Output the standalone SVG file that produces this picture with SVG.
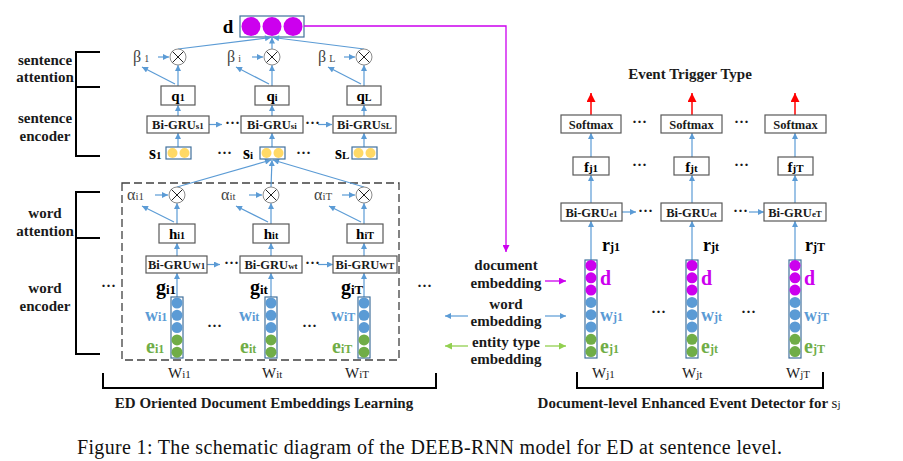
<svg xmlns="http://www.w3.org/2000/svg" width="903" height="461" viewBox="0 0 903 461">
<style>
text{font-family:"Liberation Serif","Times New Roman",serif}
.b{font-weight:bold}
.lab{font-weight:bold;font-size:15px;text-anchor:middle;fill:#1a1a1a}
.box{fill:#fff;stroke:#595959;stroke-width:1.2}
.bt{font-weight:bold;font-size:12.5px;text-anchor:middle;fill:#1a1a1a}
.ln{stroke:#5B9BD5;stroke-width:1.2;fill:none}
.arr{stroke:#5B9BD5;stroke-width:1.2;fill:none;marker-end:url(#ab)}
.mul{fill:#fff;stroke:#8c8c8c;stroke-width:1}
.x{stroke:#222;stroke-width:1}
.vec{fill:#fff;stroke:#41719C;stroke-width:1.2}
.cb{fill:#5B9BD5}
.cg{fill:#70AD47}
.cp{fill:#CC00EE}
.cy{fill:#FFD966}
.brk{stroke:#000;stroke-width:2;fill:none}
.gr{fill:#444;font-size:16px}
.blue{fill:#5B9BD5;font-weight:bold}
.green{fill:#70AD47;font-weight:bold}
.purp{fill:#CC00EE;font-weight:bold}
.dots{font-size:15px;font-weight:bold;fill:#1a1a1a}
</style>
<defs>
<marker id="ab" viewBox="0 0 10 10" refX="10" refY="5" markerWidth="7" markerHeight="6" orient="auto" markerUnits="userSpaceOnUse"><path d="M0,0 L10,5 L0,10 z" fill="#5B9BD5"/></marker>
<marker id="ap" viewBox="0 0 10 10" refX="10" refY="5" markerWidth="8" markerHeight="7" orient="auto" markerUnits="userSpaceOnUse"><path d="M0,0 L10,5 L0,10 z" fill="#CC00EE"/></marker>
<marker id="ag" viewBox="0 0 10 10" refX="10" refY="5" markerWidth="8" markerHeight="7" orient="auto" markerUnits="userSpaceOnUse"><path d="M0,0 L10,5 L0,10 z" fill="#92D050"/></marker>
<marker id="ar" viewBox="0 0 10 10" refX="10" refY="5" markerWidth="10" markerHeight="9" orient="auto" markerUnits="userSpaceOnUse"><path d="M0,0 L10,5 L0,10 z" fill="#FF0000"/></marker>
</defs>

<!-- left side labels and brackets -->
<g id="brackets-left">
<path class="brk" d="M100,52 H76 V156 H100 M76,87 H100"/>
<path class="brk" d="M100,192 H76 V354 H100 M76,238 H100"/>
<text class="lab" x="45" y="65">sentence</text>
<text class="lab" x="45" y="82">attention</text>
<text class="lab" x="45" y="123">sentence</text>
<text class="lab" x="45" y="141">encoder</text>
<text class="lab" x="45" y="218">word</text>
<text class="lab" x="45" y="236">attention</text>
<text class="lab" x="45" y="293">word</text>
<text class="lab" x="45" y="311">encoder</text>
</g>

<g id="word-region">
<rect x="122" y="183" width="277" height="177" fill="none" stroke="#404040" stroke-width="1.3" stroke-dasharray="8 4"/>
</g>

<!-- document vector d -->
<g id="doc-d">
<text class="b" x="228" y="33" font-size="19" text-anchor="middle">d</text>
<rect class="vec" x="240" y="16" width="64" height="21"/>
<circle class="cp" cx="251" cy="26.5" r="9.5"/>
<circle class="cp" cx="272" cy="26.5" r="9.5"/>
<circle class="cp" cx="293" cy="26.5" r="9.5"/>
</g>

<!-- connectors -->
<g id="connectors">
<line class="arr" x1="178" y1="49" x2="271" y2="37.5"/>
<line class="arr" x1="272" y1="49" x2="272" y2="37.5"/>
<line class="arr" x1="364" y1="49" x2="273" y2="37.5"/>
<path d="M304,26 H506 V252" stroke="#CC00EE" stroke-width="1.3" fill="none" marker-end="url(#ap)"/>
<line class="arr" x1="178" y1="86" x2="178" y2="65"/>
<line class="arr" x1="272" y1="86" x2="272" y2="65"/>
<line class="arr" x1="364" y1="86" x2="364" y2="65"/>
<line class="arr" x1="175" y1="84" x2="142" y2="67"/>
<line class="arr" x1="269" y1="84" x2="236" y2="67"/>
<line class="arr" x1="361" y1="84" x2="328" y2="67"/>
<line class="arr" x1="158" y1="57" x2="169" y2="57"/>
<line class="arr" x1="252" y1="57" x2="263" y2="57"/>
<line class="arr" x1="344" y1="57" x2="355" y2="57"/>
<line class="arr" x1="178" y1="116" x2="178" y2="105"/>
<line class="arr" x1="272" y1="116" x2="272" y2="105"/>
<line class="arr" x1="364" y1="116" x2="364" y2="105"/>
<line class="arr" x1="178" y1="147" x2="178" y2="133"/>
<line class="arr" x1="272" y1="147" x2="272" y2="133"/>
<line class="arr" x1="364" y1="147" x2="364" y2="133"/>
<line class="arr" x1="209" y1="124.5" x2="222" y2="124.5"/>
<line class="arr" x1="318" y1="124.5" x2="332" y2="124.5"/>
<line class="arr" x1="177" y1="187" x2="271" y2="160"/>
<line class="arr" x1="271" y1="187" x2="272" y2="160"/>
<line class="arr" x1="364" y1="187" x2="273" y2="160"/>
<line class="arr" x1="177" y1="224" x2="177" y2="203"/>
<line class="arr" x1="271" y1="224" x2="271" y2="203"/>
<line class="arr" x1="364" y1="224" x2="364" y2="203"/>
<line class="arr" x1="174" y1="222" x2="142" y2="206"/>
<line class="arr" x1="268" y1="222" x2="236" y2="206"/>
<line class="arr" x1="361" y1="222" x2="329" y2="206"/>
<line class="arr" x1="155" y1="195" x2="168" y2="195"/>
<line class="arr" x1="249" y1="195" x2="262" y2="195"/>
<line class="arr" x1="342" y1="195" x2="355" y2="195"/>
<line class="arr" x1="177" y1="256" x2="177" y2="243"/>
<line class="arr" x1="271" y1="256" x2="271" y2="243"/>
<line class="arr" x1="364" y1="256" x2="364" y2="243"/>
<line class="arr" x1="177" y1="297" x2="177" y2="273"/>
<line class="arr" x1="271" y1="297" x2="271" y2="273"/>
<line class="arr" x1="364" y1="297" x2="364" y2="273"/>
<line class="arr" x1="207" y1="264.5" x2="220" y2="264.5"/>
<line class="arr" x1="318" y1="264.5" x2="333" y2="264.5"/>
<line x1="545" y1="281" x2="566" y2="281" stroke="#CC00EE" stroke-width="1.3" marker-end="url(#ap)"/>
<line class="arr" x1="468" y1="316" x2="445" y2="316"/>
<line class="arr" x1="545" y1="316" x2="566" y2="316"/>
<line x1="468" y1="346" x2="445" y2="346" stroke="#92D050" stroke-width="1.3" marker-end="url(#ag)"/>
<line x1="545" y1="346" x2="566" y2="346" stroke="#92D050" stroke-width="1.3" marker-end="url(#ag)"/>
<line x1="591" y1="115" x2="591" y2="93" stroke="#FF0000" stroke-width="1.5" marker-end="url(#ar)"/>
<line x1="692" y1="115" x2="692" y2="93" stroke="#FF0000" stroke-width="1.5" marker-end="url(#ar)"/>
<line x1="795" y1="115" x2="795" y2="93" stroke="#FF0000" stroke-width="1.5" marker-end="url(#ar)"/>
<line class="arr" x1="591" y1="157" x2="591" y2="133"/>
<line class="arr" x1="692" y1="157" x2="692" y2="133"/>
<line class="arr" x1="795" y1="157" x2="795" y2="133"/>
<line class="arr" x1="591" y1="203" x2="591" y2="175"/>
<line class="arr" x1="692" y1="203" x2="692" y2="175"/>
<line class="arr" x1="795" y1="203" x2="795" y2="175"/>
<line class="arr" x1="591" y1="260" x2="591" y2="221"/>
<line class="arr" x1="692" y1="260" x2="692" y2="221"/>
<line class="arr" x1="795" y1="260" x2="795" y2="221"/>
<line class="arr" x1="622" y1="212" x2="636" y2="212"/>
<line class="arr" x1="749" y1="212" x2="764" y2="212"/>
</g>

<!-- sentence level nodes -->
<g id="mul-s1"><circle class="mul" cx="178" cy="57" r="8"/><path class="x" d="M172.5,51.5 L183.5,62.5 M183.5,51.5 L172.5,62.5"/></g>
<g id="mul-si"><circle class="mul" cx="272" cy="57" r="8"/><path class="x" d="M266.5,51.5 L277.5,62.5 M277.5,51.5 L266.5,62.5"/></g>
<g id="mul-sL"><circle class="mul" cx="364" cy="57" r="8"/><path class="x" d="M358.5,51.5 L369.5,62.5 M369.5,51.5 L358.5,62.5"/></g>
<g id="beta-1"><text class="gr" x="133" y="62">β<tspan font-size="10" dx="3">1</tspan></text></g>
<g id="beta-i"><text class="gr" x="227" y="62">β<tspan font-size="10" dx="3">i</tspan></text></g>
<g id="beta-L"><text class="gr" x="318" y="62">β<tspan font-size="10" dx="3">L</tspan></text></g>

<g id="q1"><rect class="box" x="161" y="86" width="34" height="19"/><text class="b" x="178" y="100.5" font-size="15" text-anchor="middle">q<tspan font-size="10">1</tspan></text></g>
<g id="qi"><rect class="box" x="255" y="86" width="34" height="19"/><text class="b" x="272" y="100.5" font-size="15" text-anchor="middle">q<tspan font-size="10">i</tspan></text></g>
<g id="qL"><rect class="box" x="347" y="86" width="34" height="19"/><text class="b" x="364" y="100.5" font-size="15" text-anchor="middle">q<tspan font-size="10">L</tspan></text></g>

<g id="gru-s1"><rect class="box" x="147" y="116" width="62" height="17"/><text class="bt" x="178" y="129">Bi-GRU<tspan font-size="9">s1</tspan></text></g>
<g id="gru-si"><rect class="box" x="241" y="116" width="62" height="17"/><text class="bt" x="272" y="129">Bi-GRU<tspan font-size="9">si</tspan></text></g>
<g id="gru-sL"><rect class="box" x="333" y="116" width="63" height="17"/><text class="bt" x="364.5" y="129">Bi-GRU<tspan font-size="9">SL</tspan></text></g>
<text class="dots" x="225" y="128">···</text>
<text class="dots" x="305" y="128">···</text>

<g id="s1"><text class="b" x="149" y="159" font-size="18">s<tspan font-size="11">1</tspan></text><rect class="vec" x="166" y="147" width="25" height="12"/><circle class="cy" cx="172.5" cy="153" r="5"/><circle class="cy" cx="184.5" cy="153" r="5"/></g>
<g id="si"><text class="b" x="243" y="159" font-size="18">s<tspan font-size="11">i</tspan></text><rect class="vec" x="260" y="147" width="25" height="12"/><circle class="cy" cx="266.5" cy="153" r="5"/><circle class="cy" cx="278.5" cy="153" r="5"/></g>
<g id="sL"><text class="b" x="335" y="159" font-size="18">s<tspan font-size="11">L</tspan></text><rect class="vec" x="352" y="147" width="25" height="12"/><circle class="cy" cx="358.5" cy="153" r="5"/><circle class="cy" cx="370.5" cy="153" r="5"/></g>
<text class="dots" x="217" y="158">···</text>
<text class="dots" x="296" y="158">···</text>

<!-- word level nodes -->
<g id="mul-w1"><circle class="mul" cx="177" cy="195" r="8"/><path class="x" d="M171.5,189.5 L182.5,200.5 M182.5,189.5 L171.5,200.5"/></g>
<g id="mul-wt"><circle class="mul" cx="271" cy="195" r="8"/><path class="x" d="M265.5,189.5 L276.5,200.5 M276.5,189.5 L265.5,200.5"/></g>
<g id="mul-wT"><circle class="mul" cx="364" cy="195" r="8"/><path class="x" d="M358.5,189.5 L369.5,200.5 M369.5,189.5 L358.5,200.5"/></g>
<g id="alpha-1"><text class="gr" x="127" y="200" font-size="19">α<tspan font-size="11">i1</tspan></text></g>
<g id="alpha-t"><text class="gr" x="221" y="200" font-size="19">α<tspan font-size="11">it</tspan></text></g>
<g id="alpha-T"><text class="gr" x="314" y="200" font-size="19">α<tspan font-size="11">iT</tspan></text></g>

<g id="h1"><rect class="box" x="159" y="224" width="36" height="19"/><text class="b" x="177" y="239" font-size="15" text-anchor="middle">h<tspan font-size="10">i1</tspan></text></g>
<g id="ht"><rect class="box" x="253" y="224" width="36" height="19"/><text class="b" x="271" y="239" font-size="15" text-anchor="middle">h<tspan font-size="10">it</tspan></text></g>
<g id="hT"><rect class="box" x="347" y="224" width="36" height="19"/><text class="b" x="365" y="239" font-size="15" text-anchor="middle">h<tspan font-size="10">iT</tspan></text></g>

<g id="gru-w1"><rect class="box" x="146" y="256" width="61" height="17"/><text class="bt" x="176.5" y="269">Bi-GRU<tspan font-size="9">W1</tspan></text></g>
<g id="gru-wt"><rect class="box" x="240" y="256" width="62" height="17"/><text class="bt" x="271" y="269">Bi-GRU<tspan font-size="9">wt</tspan></text></g>
<g id="gru-wT"><rect class="box" x="333" y="256" width="64" height="17"/><text class="bt" x="365" y="269">Bi-GRU<tspan font-size="9">WT</tspan></text></g>
<text class="dots" x="224" y="268">···</text>
<text class="dots" x="305" y="268">···</text>

<g id="wv1">
<text class="b" x="156" y="294" font-size="20">g<tspan font-size="13">i1</tspan></text>
<rect class="vec" x="171" y="297" width="12" height="61"/>
<circle class="cb" cx="177" cy="303" r="5.5"/><circle class="cb" cx="177" cy="315.3" r="5.5"/><circle class="cb" cx="177" cy="327.6" r="5.5"/><circle class="cg" cx="177" cy="339.9" r="5.5"/><circle class="cg" cx="177" cy="352.2" r="5.5"/>
<text class="blue" x="145" y="321" font-size="18">w<tspan font-size="12">i1</tspan></text>
<text class="green" x="146" y="353" font-size="20">e<tspan font-size="12">i1</tspan></text>
<text x="168" y="378" font-size="15" fill="#222">W<tspan font-size="11">i1</tspan></text>
</g>
<g id="wvt">
<text class="b" x="250" y="294" font-size="20">g<tspan font-size="13">it</tspan></text>
<rect class="vec" x="265" y="297" width="12" height="61"/>
<circle class="cb" cx="271" cy="303" r="5.5"/><circle class="cb" cx="271" cy="315.3" r="5.5"/><circle class="cb" cx="271" cy="327.6" r="5.5"/><circle class="cg" cx="271" cy="339.9" r="5.5"/><circle class="cg" cx="271" cy="352.2" r="5.5"/>
<text class="blue" x="239" y="321" font-size="18">w<tspan font-size="12">it</tspan></text>
<text class="green" x="240" y="353" font-size="20">e<tspan font-size="12">it</tspan></text>
<text x="262" y="378" font-size="15" fill="#222">W<tspan font-size="11">it</tspan></text>
</g>
<g id="wvT">
<text class="b" x="341" y="294" font-size="20">g<tspan font-size="13">iT</tspan></text>
<rect class="vec" x="358" y="297" width="12" height="61"/>
<circle class="cb" cx="364" cy="303" r="5.5"/><circle class="cb" cx="364" cy="315.3" r="5.5"/><circle class="cb" cx="364" cy="327.6" r="5.5"/><circle class="cg" cx="364" cy="339.9" r="5.5"/><circle class="cg" cx="364" cy="352.2" r="5.5"/>
<text class="blue" x="331" y="321" font-size="18">w<tspan font-size="12">iT</tspan></text>
<text class="green" x="332" y="353" font-size="20">e<tspan font-size="12">iT</tspan></text>
<text x="345" y="378" font-size="15" fill="#222">W<tspan font-size="11">iT</tspan></text>
</g>
<text class="dots" x="101" y="291">···</text>
<text class="dots" x="207" y="331">···</text>
<text class="dots" x="302" y="331">···</text>
<text class="dots" x="417" y="291">···</text>

<g id="left-caption">
<path class="brk" d="M103,373 V388 H436 V373"/>
<text class="lab" x="264" y="408">ED Oriented Document Embeddings Learning</text>
</g>

<!-- middle labels -->
<g id="mid-labels">
<text class="lab" x="506" y="270">document</text>
<text class="lab" x="506" y="288">embedding</text>
<text class="lab" x="506" y="309">word</text>
<text class="lab" x="506" y="326">embedding</text>
<text class="lab" x="506" y="347">entity type</text>
<text class="lab" x="506" y="364">embedding</text>
</g>

<!-- right side -->
<text class="lab" x="690" y="79">Event Trigger Type</text>
<g id="softmax-1"><rect class="box" x="561" y="115" width="60" height="18"/><text class="bt" x="591" y="128.5">Softmax</text></g>
<g id="softmax-t"><rect class="box" x="661" y="115" width="61" height="18"/><text class="bt" x="691.5" y="128.5">Softmax</text></g>
<g id="softmax-T"><rect class="box" x="765" y="115" width="61" height="18"/><text class="bt" x="795.5" y="128.5">Softmax</text></g>
<text class="dots" x="632" y="127">···</text>
<text class="dots" x="734" y="127">···</text>
<g id="f1"><rect class="box" x="573" y="157" width="36" height="18"/><text class="b" x="591" y="171.5" font-size="15" text-anchor="middle">f<tspan font-size="11">j1</tspan></text></g>
<g id="ft"><rect class="box" x="674" y="157" width="35" height="18"/><text class="b" x="691.5" y="171.5" font-size="15" text-anchor="middle">f<tspan font-size="11">jt</tspan></text></g>
<g id="fT"><rect class="box" x="778" y="157" width="35" height="18"/><text class="b" x="795.5" y="171.5" font-size="15" text-anchor="middle">f<tspan font-size="11">jT</tspan></text></g>
<text class="dots" x="632" y="170">···</text>
<text class="dots" x="734" y="170">···</text>
<g id="gru-e1"><rect class="box" x="561" y="203" width="61" height="18"/><text class="bt" x="591.5" y="216.5">Bi-GRU<tspan font-size="9">e1</tspan></text></g>
<g id="gru-et"><rect class="box" x="661" y="203" width="61" height="18"/><text class="bt" x="691.5" y="216.5">Bi-GRU<tspan font-size="9">et</tspan></text></g>
<g id="gru-eT"><rect class="box" x="764" y="203" width="62" height="18"/><text class="bt" x="795" y="216.5">Bi-GRU<tspan font-size="9">eT</tspan></text></g>
<text class="dots" x="638" y="216">···</text>
<text class="dots" x="733" y="216">···</text>

<g id="rv1">
<text class="b" x="602" y="251" font-size="18">r<tspan font-size="12">j1</tspan></text>
<rect class="vec" x="585" y="260" width="12" height="98"/>
<circle class="cp" cx="591" cy="265.5" r="5.5"/><circle class="cp" cx="591" cy="277.8" r="5.5"/><circle class="cp" cx="591" cy="290.1" r="5.5"/><circle class="cb" cx="591" cy="302.4" r="5.5"/><circle class="cb" cx="591" cy="314.7" r="5.5"/><circle class="cb" cx="591" cy="327" r="5.5"/><circle class="cg" cx="591" cy="339.3" r="5.5"/><circle class="cg" cx="591" cy="351.6" r="5.5"/>
<text class="purp" x="600" y="285" font-size="20">d</text>
<text class="blue" x="600" y="321" font-size="18">w<tspan font-size="12">j1</tspan></text>
<text class="green" x="600" y="353" font-size="20">e<tspan font-size="12">j1</tspan></text>
<text x="592" y="378" font-size="15" fill="#222">W<tspan font-size="11">j1</tspan></text>
</g>
<g id="rvt">
<text class="b" x="703" y="251" font-size="18">r<tspan font-size="12">jt</tspan></text>
<rect class="vec" x="686" y="260" width="12" height="98"/>
<circle class="cp" cx="692" cy="265.5" r="5.5"/><circle class="cp" cx="692" cy="277.8" r="5.5"/><circle class="cp" cx="692" cy="290.1" r="5.5"/><circle class="cb" cx="692" cy="302.4" r="5.5"/><circle class="cb" cx="692" cy="314.7" r="5.5"/><circle class="cb" cx="692" cy="327" r="5.5"/><circle class="cg" cx="692" cy="339.3" r="5.5"/><circle class="cg" cx="692" cy="351.6" r="5.5"/>
<text class="purp" x="701" y="285" font-size="20">d</text>
<text class="blue" x="701" y="321" font-size="18">w<tspan font-size="12">jt</tspan></text>
<text class="green" x="701" y="353" font-size="20">e<tspan font-size="12">jt</tspan></text>
<text x="682" y="378" font-size="15" fill="#222">W<tspan font-size="11">jt</tspan></text>
</g>
<g id="rvT">
<text class="b" x="805" y="251" font-size="18">r<tspan font-size="12">jT</tspan></text>
<rect class="vec" x="789" y="260" width="12" height="98"/>
<circle class="cp" cx="795" cy="265.5" r="5.5"/><circle class="cp" cx="795" cy="277.8" r="5.5"/><circle class="cp" cx="795" cy="290.1" r="5.5"/><circle class="cb" cx="795" cy="302.4" r="5.5"/><circle class="cb" cx="795" cy="314.7" r="5.5"/><circle class="cb" cx="795" cy="327" r="5.5"/><circle class="cg" cx="795" cy="339.3" r="5.5"/><circle class="cg" cx="795" cy="351.6" r="5.5"/>
<text class="purp" x="804" y="285" font-size="20">d</text>
<text class="blue" x="804" y="321" font-size="18">w<tspan font-size="12">jT</tspan></text>
<text class="green" x="804" y="353" font-size="20">e<tspan font-size="12">jT</tspan></text>
<text x="786" y="378" font-size="15" fill="#222">W<tspan font-size="11">jT</tspan></text>
</g>
<text class="dots" x="651" y="317">···</text>
<text class="dots" x="741" y="317">···</text>

<g id="right-caption">
<path class="brk" d="M577,372 V388 H823 V372"/>
<text class="lab" x="689" y="408">Document-level Enhanced Event Detector for <tspan font-weight="normal" font-size="15">s</tspan><tspan font-weight="normal" font-size="11">j</tspan></text>
</g>

<text x="77" y="454" font-size="20" fill="#111" textLength="705" lengthAdjust="spacing">Figure 1: The schematic diagram of the DEEB-RNN model for ED at sentence level.</text>
</svg>
